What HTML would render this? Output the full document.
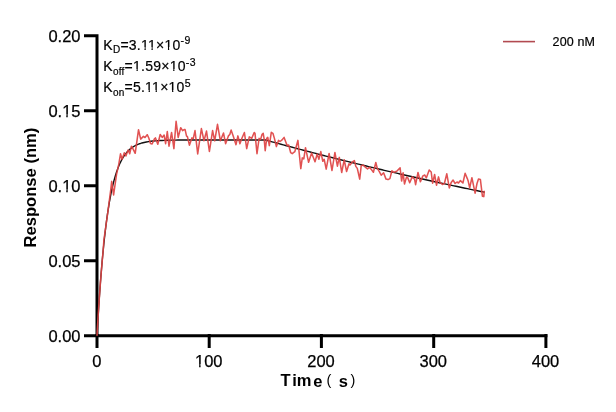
<!DOCTYPE html>
<html><head><meta charset="utf-8"><style>
html,body{margin:0;padding:0;background:#fff;}
body{width:616px;height:412px;overflow:hidden;position:relative;font-family:"Liberation Sans",sans-serif;}
svg{position:absolute;left:0;top:0;filter:blur(0.45px);}
</style></head><body>
<svg width="616" height="412" viewBox="0 0 616 412">
<rect width="616" height="412" fill="#fff"/>
<g stroke="#000" stroke-width="3" fill="none" stroke-linecap="butt">
<path d="M97,34.2 V337 M84,35.7 H98 M84,110.7 H98 M84,185.7 H98 M84,260.7 H98 M84,335.7 H547.4"/>
<path d="M97,334 V348 M209.2,334 V348 M321.4,334 V348 M433.7,334 V348 M545.9,334 V348"/>
</g>
<g font-family="Liberation Sans" font-size="16.5" fill="#000" stroke="#000" stroke-width="0.25" text-anchor="end">
<text x="80.5" y="41.5">0.20</text>
<text x="80.5" y="116.5">0.15</text>
<text x="80.5" y="191.5">0.10</text>
<text x="80.5" y="266.5">0.05</text>
<text x="80.5" y="341.5">0.00</text>
</g>
<g font-family="Liberation Sans" font-size="16.5" fill="#000" stroke="#000" stroke-width="0.25" text-anchor="middle">
<text x="96.8" y="366.8">0</text>
<text x="208.75" y="366.8">100</text>
<text x="321" y="366.8">200</text>
<text x="433.25" y="366.8">300</text>
<text x="545.5" y="366.8">400</text>
</g>
<text transform="translate(36.3,247.5) rotate(-90)" font-family="Liberation Sans" font-weight="bold" font-size="16.6" fill="#000">Response (nm)</text>
<g font-family="Liberation Sans" font-weight="bold" font-size="16.5" fill="#000">
<text x="280.6" y="386.4">T</text><text x="292.2" y="386.4">i</text><text x="296.8" y="386.4">m</text><text x="313.3" y="386.6">e</text>
<text x="338.7" y="386.6">s</text>
</g>
<g font-family="Liberation Sans" font-size="14.5" fill="#000">
<text x="326.5" y="385">(</text><text x="350.5" y="385">)</text>
</g>
<g font-family="Liberation Sans" font-size="14" letter-spacing="0.25" fill="#000" stroke="#000" stroke-width="0.2">
<text x="103.3" y="49.8">K<tspan font-size="10" dy="3.5">D</tspan><tspan dy="-3.5">=3.11×10</tspan><tspan font-size="10.5" dy="-5.6" letter-spacing="0.4">-9</tspan></text>
<text x="103.3" y="71.1">K<tspan font-size="10" dy="3.5">off</tspan><tspan dy="-3.5">=1.59×10</tspan><tspan font-size="10.5" dy="-5.6" letter-spacing="0.4">-3</tspan></text>
<text x="103.3" y="92.2">K<tspan font-size="10" dy="3.5">on</tspan><tspan dy="-3.5">=5.11×10</tspan><tspan font-size="10.5" dy="-5.6" letter-spacing="0.4">5</tspan></text>
</g>
<rect x="62" y="114" width="4.27" height="4" fill="#fff"/><rect x="67.73" y="114" width="3.27" height="4" fill="#fff"/><rect x="62" y="189" width="4.27" height="4" fill="#fff"/><rect x="67.73" y="189" width="3.27" height="4" fill="#fff"/><rect x="195" y="364" width="4.13" height="4" fill="#fff"/><rect x="200.59" y="364" width="3.41" height="4" fill="#fff"/><rect x="141" y="47" width="3.49" height="4" fill="#fff"/><rect x="145.73" y="47" width="3.27" height="4" fill="#fff"/><rect x="148" y="47" width="3.49" height="4" fill="#fff"/><rect x="152.73" y="47" width="3.27" height="4" fill="#fff"/><rect x="165" y="47" width="2.95" height="4" fill="#fff"/><rect x="169.18" y="47" width="2.82" height="4" fill="#fff"/><rect x="133" y="69" width="3.52" height="3" fill="#fff"/><rect x="137.76" y="69" width="3.24" height="3" fill="#fff"/><rect x="170" y="69" width="3.20" height="3" fill="#fff"/><rect x="174.43" y="69" width="3.57" height="3" fill="#fff"/><rect x="145" y="90" width="3.63" height="3" fill="#fff"/><rect x="149.87" y="90" width="3.13" height="3" fill="#fff"/><rect x="152" y="90" width="3.63" height="3" fill="#fff"/><rect x="156.87" y="90" width="3.13" height="3" fill="#fff"/><rect x="169" y="90" width="3.09" height="3" fill="#fff"/><rect x="173.32" y="90" width="3.68" height="3" fill="#fff"/>
<line x1="503" y1="41.6" x2="535" y2="41.6" stroke="#B24A50" stroke-width="1.6"/>
<text x="552.6" y="45.9" font-family="Liberation Sans" font-size="12.5" letter-spacing="0.15" fill="#000" stroke="#000" stroke-width="0.2">200 nM</text>
<polyline points="97.00,335.70 97.56,325.80 98.12,316.40 98.68,307.48 99.24,299.00 99.81,290.96 100.37,283.32 100.93,276.07 101.49,269.19 102.05,262.65 102.61,256.44 103.17,250.55 103.73,244.96 104.29,239.65 104.86,234.60 105.42,229.82 105.98,225.27 106.54,220.96 107.10,216.86 107.66,212.97 108.22,209.28 108.78,205.77 109.34,202.44 109.91,199.28 110.47,196.28 111.03,193.43 111.59,190.73 112.15,188.16 112.71,185.72 113.27,183.41 113.83,181.21 114.39,179.12 114.96,177.14 115.52,175.26 116.08,173.47 116.64,171.78 117.20,170.17 117.76,168.64 118.32,167.19 118.88,165.81 119.44,164.50 120.01,163.26 120.57,162.08 121.13,160.96 121.69,159.90 122.25,158.89 122.81,157.93 123.37,157.02 123.93,156.16 124.49,155.34 125.06,154.56 125.62,153.82 126.18,153.12 126.74,152.46 127.30,151.82 127.86,151.22 128.42,150.65 128.98,150.11 129.54,149.60 130.10,149.11 130.67,148.65 131.23,148.21 131.79,147.79 132.35,147.39 132.91,147.02 133.47,146.66 134.03,146.32 134.59,146.00 135.15,145.69 135.72,145.40 136.28,145.12 136.84,144.86 137.40,144.61 137.96,144.38 138.52,144.15 139.08,143.94 139.64,143.74 140.20,143.55 140.77,143.37 141.33,143.19 141.89,143.03 144.13,142.45 146.38,141.98 148.62,141.60 150.87,141.29 153.11,141.04 155.35,140.84 157.60,140.67 159.84,140.54 162.09,140.43 164.33,140.34 166.58,140.26 168.82,140.21 171.07,140.16 173.31,140.12 175.55,140.09 177.80,140.06 180.04,140.04 182.29,140.02 184.53,140.01 186.78,140.00 189.02,139.99 191.26,139.98 193.51,139.98 195.75,139.97 198.00,139.97 200.24,139.96 202.49,139.96 204.73,139.96 206.98,139.96 209.22,139.96 211.46,139.95 213.71,139.95 215.95,139.95 218.20,139.95 220.44,139.95 222.69,139.95 224.93,139.95 227.18,139.95 229.42,139.95 231.66,139.95 233.91,139.95 236.15,139.95 238.40,139.95 240.64,139.95 242.89,139.95 245.13,139.95 247.37,139.95 249.62,139.95 251.86,139.95 254.11,139.95 256.35,139.95 258.60,139.95 260.84,139.95 263.09,139.95 265.33,139.95 267.57,140.57 269.82,141.19 272.06,141.81 274.31,142.42 276.55,143.04 278.80,143.65 281.04,144.26 283.29,144.87 285.53,145.47 287.77,146.08 290.02,146.68 292.26,147.28 294.51,147.88 296.75,148.47 299.00,149.07 301.24,149.66 303.48,150.25 305.73,150.84 307.97,151.43 310.22,152.01 312.46,152.60 314.71,153.18 316.95,153.76 319.20,154.33 321.44,154.91 323.68,155.48 325.93,156.06 328.17,156.63 330.42,157.19 332.66,157.76 334.91,158.33 337.15,158.89 339.40,159.45 341.64,160.01 343.88,160.57 346.13,161.12 348.37,161.68 350.62,162.23 352.86,162.78 355.11,163.33 357.35,163.88 359.59,164.42 361.84,164.97 364.08,165.51 366.33,166.05 368.57,166.59 370.82,167.13 373.06,167.66 375.31,168.19 377.55,168.73 379.79,169.26 382.04,169.78 384.28,170.31 386.53,170.84 388.77,171.36 391.02,171.88 393.26,172.40 395.51,172.92 397.75,173.44 399.99,173.95 402.24,174.47 404.48,174.98 406.73,175.49 408.97,176.00 411.22,176.50 413.46,177.01 415.70,177.51 417.95,178.02 420.19,178.52 422.44,179.01 424.68,179.51 426.93,180.01 429.17,180.50 431.42,181.00 433.66,181.49 435.90,181.98 438.15,182.46 440.39,182.95 442.64,183.44 444.88,183.92 447.13,184.40 449.37,184.88 451.62,185.36 453.86,185.84 456.10,186.31 458.35,186.79 460.59,187.26 462.84,187.73 465.08,188.20 467.33,188.67 469.57,189.14 471.81,189.60 474.06,190.07 476.30,190.53 478.55,190.99 480.79,191.45 483.04,191.91 484.72,192.25" fill="none" stroke="#111" stroke-width="1.4" stroke-linejoin="round"/>
<polyline points="97.00,335.70 97.56,325.80 98.12,316.40 98.68,307.48 99.24,299.00 99.81,290.96 100.37,283.32 100.93,276.07 101.49,269.19 102.05,262.65 102.61,256.44 103.17,250.55 103.90,240.00 107.80,212.40 110.70,190.00 111.70,181.40 113.60,195.00 116.50,174.60 118.80,164.20 120.50,153.80 122.10,159.30 124.30,152.80 125.90,156.00 128.10,150.00 129.70,153.80 131.40,146.20 133.00,148.90 135.20,153.30 138.50,129.80 140.70,139.10 143.40,136.40 145.00,137.50 147.20,134.70 148.80,138.00 150.50,143.50 152.10,144.00 154.30,139.10 155.40,137.90 157.80,144.20 160.20,134.50 162.20,137.40 164.10,135.00 165.60,143.70 167.30,131.60 169.00,146.20 171.60,132.50 173.90,148.60 176.10,121.30 178.20,137.40 180.70,127.70 182.60,130.60 184.10,129.60 185.10,129.60 186.50,135.90 187.50,136.90 189.40,145.20 191.90,137.90 193.30,138.40 195.00,130.60 197.70,153.90 201.40,128.60 204.00,140.80 206.50,131.10 209.40,151.50 212.60,130.60 214.70,140.80 217.50,124.30 220.40,140.80 223.50,133.00 225.60,143.70 228.40,135.90 229.80,134.50 231.10,130.10 233.20,135.90 236.00,144.70 237.90,135.90 239.90,143.70 242.00,138.00 244.40,132.50 246.70,148.60 249.30,136.90 251.70,138.40 254.20,132.50 255.00,133.30 257.00,153.70 259.10,138.40 260.60,139.40 262.10,134.30 263.20,133.30 264.20,139.40 265.20,150.70 266.70,138.40 267.80,137.40 269.30,145.60 271.30,132.30 272.90,133.30 274.40,138.40 276.40,146.60 278.50,140.40 280.00,141.50 281.50,140.40 284.10,137.40 285.60,141.50 287.10,145.60 288.70,145.00 290.70,152.70 292.20,153.70 294.80,151.70 297.90,140.40 300.80,168.60 302.30,157.90 303.80,158.90 305.50,147.70 308.60,162.30 311.60,153.00 315.00,161.80 317.20,154.00 318.90,159.30 320.80,151.60 322.80,161.30 324.20,159.30 326.20,169.10 329.10,153.50 332.00,170.50 334.90,152.50 337.40,166.20 339.30,157.40 341.70,172.50 344.20,159.80 346.60,171.50 349.00,163.70 350.00,165.00 352.40,162.00 354.40,160.60 355.80,166.40 357.30,168.40 359.70,179.10 361.20,165.90 363.10,165.00 365.60,167.40 367.50,168.90 369.50,167.40 370.90,168.90 373.40,172.30 375.80,162.50 377.30,168.40 379.20,171.30 381.20,175.20 383.60,172.80 386.00,179.10 388.00,179.60 389.90,178.60 391.90,170.80 393.80,172.30 396.70,171.30 400.10,167.90 401.60,181.00 403.10,172.80 404.50,184.00 406.50,177.10 407.80,177.90 409.70,182.80 412.20,176.90 414.60,179.30 415.60,184.70 418.00,172.50 420.40,181.80 422.90,175.90 424.80,175.00 426.30,177.90 429.20,170.10 431.20,172.00 432.60,183.20 434.60,174.50 436.50,185.20 438.50,176.90 440.00,182.50 442.40,184.50 444.40,183.50 446.80,173.80 449.30,187.90 451.20,182.50 453.10,180.10 455.10,183.50 457.00,182.00 458.50,183.00 460.40,180.60 462.90,183.00 465.10,173.30 467.30,178.60 468.20,181.10 469.70,187.90 471.90,177.70 475.10,193.20 477.00,183.50 478.50,179.10 480.40,179.60 482.40,196.20 483.80,196.60 484.30,190.80" fill="none" stroke="#DE4343" stroke-opacity="0.92" stroke-width="1.55" stroke-linejoin="round"/>
</svg>
</body></html>
